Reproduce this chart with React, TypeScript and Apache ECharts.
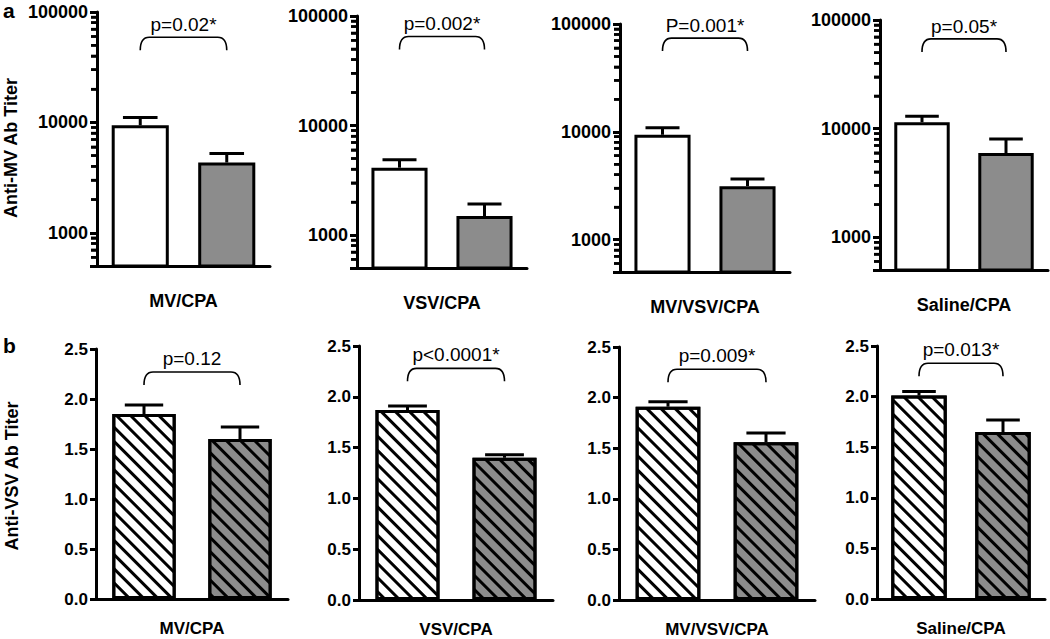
import React, { useEffect, useRef } from 'react';
import * as echarts from 'echarts';

// ---------- data ----------
const groups = ['MV/CPA', 'VSV/CPA', 'MV/VSV/CPA', 'Saline/CPA'];
const barKeys = ['Group 1', 'Group 2'];

// panel a: anti-MV antibody titer (log scale)
const mvMeans = [
  [9400, 4330],
  [4120, 1490],
  [9380, 3130],
  [11460, 5970],
];
const mvSem = [
  [1700, 900],
  [750, 430],
  [1520, 510],
  [1540, 2050],
];
const mvP = ['p=0.02*', 'p=0.002*', 'P=0.001*', 'p=0.05*'];
const mvBracket = [59000, 65000, 74000, 67000];
const mvMajorTicks = [1000, 10000, 100000];
const mvMinorTicks = [600, 700, 800, 900, 2000, 3000, 4000, 5000, 6000, 7000, 8000, 9000,
  20000, 30000, 40000, 50000, 60000, 70000, 80000, 90000];

// panel b: anti-VSV antibody titer (linear)
const vsvMeans = [
  [1.85, 1.6],
  [1.87, 1.4],
  [1.91, 1.56],
  [2.01, 1.65],
];
const vsvSem = [
  [0.09, 0.12],
  [0.04, 0.03],
  [0.05, 0.09],
  [0.04, 0.12],
];
const vsvP = ['p=0.12', 'p<0.0001*', 'p=0.009*', 'p=0.013*'];
const vsvBracket = [2.27, 2.28, 2.28, 2.33];

const yTitles = ['Anti-MV Ab Titer', 'Anti-VSV Ab Titer'];
const panelLetters = ['a', 'b'];

// ---------- layout / style ----------
const FONT = '"Liberation Sans", Arial, Helvetica, sans-serif';
const GRAY = '#8c8c8c';
const topGrids = [
  { left: 97, top: 12, width: 173, height: 254 },
  { left: 357, top: 16, width: 170, height: 252 },
  { left: 620, top: 24, width: 170, height: 248 },
  { left: 880, top: 20, width: 168, height: 250 },
];
const botGrids = [
  { left: 96, top: 349, width: 192, height: 250 },
  { left: 359, top: 346, width: 194, height: 257 },
  { left: 619, top: 347, width: 196, height: 256 },
  { left: 877, top: 346, width: 168, height: 253 },
];
const MINOR_TICK_LEN = 6;

const axisLineStyle = { color: '#000', width: 3 };

function errorBarRender(params: any, api: any) {
  const x = api.value(0);
  const m = api.value(1);
  const s = api.value(2);
  const p0 = api.coord([x, m]);
  const p1 = api.coord([x, m + s]);
  const band = api.coord([1, m])[0] - api.coord([0, m])[0];
  const w = Math.abs(band) * 0.2;
  return {
    type: 'group',
    children: [
      { type: 'line', shape: { x1: p0[0], y1: p0[1], x2: p1[0], y2: p1[1] }, style: { stroke: '#000', lineWidth: 3 } },
      { type: 'line', shape: { x1: p1[0] - w, y1: p1[1], x2: p1[0] + w, y2: p1[1] }, style: { stroke: '#000', lineWidth: 3 } },
    ],
  };
}

function bracketRender(label: string, gap: number) {
  return (params: any, api: any) => {
    const y = api.value(2);
    const a = api.coord([api.value(0), y]);
    const b = api.coord([api.value(1), y]);
    const r = 9;
    const h = 13;
    const d = `M${a[0]} ${a[1] + h} Q${a[0]} ${a[1]} ${a[0] + r} ${a[1]} L${b[0] - r} ${b[1]} Q${b[0]} ${b[1]} ${b[0]} ${b[1] + h}`;
    return {
      type: 'group',
      children: [
        { type: 'path', shape: { pathData: d }, style: { fill: 'none', stroke: '#000', lineWidth: 1.6 } },
        {
          type: 'text',
          x: (a[0] + b[0]) / 2,
          y: a[1] - gap,
          style: { text: label, align: 'center', verticalAlign: 'bottom', fontSize: 19, fontFamily: FONT, fill: '#000' },
        },
      ],
    };
  };
}

function buildOption() {
  const grid: any[] = [];
  const xAxis: any[] = [];
  const yAxis: any[] = [];
  const series: any[] = [];

  groups.forEach((g, i) => {
    // ---- top (panel a) ----
    const gi = i;
    grid.push({ ...topGrids[i], containLabel: false });
    xAxis.push({
      gridIndex: gi, type: 'category', data: barKeys, z: 10,
      axisLine: { onZero: false, lineStyle: axisLineStyle },
      axisTick: { alignWithLabel: true, length: 8, lineStyle: { width: 3, color: '#000' } },
      axisLabel: { show: false }, splitLine: { show: false },
      name: g, nameLocation: 'middle', nameGap: 26,
      nameTextStyle: { fontSize: 18, fontWeight: 'bold', fontFamily: FONT, color: '#000' },
    });
    yAxis.push({
      gridIndex: gi, type: 'log', logBase: 10, min: 500, max: 100000, z: 10, position: 'left',
      axisLine: { show: true, onZero: false, lineStyle: axisLineStyle },
      axisTick: { show: true, length: 7, lineStyle: { width: 3, color: '#000' } },
      axisLabel: {
        margin: 9, fontSize: 18, fontWeight: 'bold', fontFamily: FONT, color: '#000',
        formatter: (v: number) => (mvMajorTicks.includes(Math.round(v)) ? String(Math.round(v)) : ''),
      },
      splitLine: { show: false },
    });
    series.push({
      type: 'bar', xAxisIndex: gi, yAxisIndex: gi, barWidth: '66%', silent: true,
      itemStyle: { borderColor: '#000', borderWidth: 3 },
      data: mvMeans[i].map((v, j) => ({ value: v, itemStyle: { color: j === 0 ? '#fff' : GRAY } })),
    });
    series.push({
      type: 'custom', xAxisIndex: gi, yAxisIndex: gi, z: 4, silent: true, clip: false,
      renderItem: errorBarRender,
      data: mvMeans[i].map((v, j) => [j, v, mvSem[i][j]]),
    });
    series.push({
      type: 'custom', xAxisIndex: gi, yAxisIndex: gi, z: 4, silent: true, clip: false,
      renderItem: bracketRender(mvP[i], 3),
      data: [[0, 1, mvBracket[i]]],
    });
    // minor log ticks (2..9 x 10^n) placed on the y axis through the log scale
    const band = topGrids[i].width / 2;
    series.push({
      type: 'scatter', xAxisIndex: gi, yAxisIndex: gi, z: 20, silent: true, clip: false,
      symbol: 'rect', symbolSize: [MINOR_TICK_LEN, 2.5],
      symbolOffset: [-(band / 2) - MINOR_TICK_LEN / 2, 0],
      itemStyle: { color: '#000', opacity: 1, borderWidth: 0 },
      emphasis: { disabled: true },
      data: mvMinorTicks.map((v) => [0, v]),
    });
  });

  groups.forEach((g, i) => {
    // ---- bottom (panel b) ----
    const gi = 4 + i;
    grid.push({ ...botGrids[i], containLabel: false });
    xAxis.push({
      gridIndex: gi, type: 'category', data: barKeys, z: 10,
      axisLine: { onZero: false, lineStyle: axisLineStyle },
      axisTick: { alignWithLabel: true, length: 8, lineStyle: { width: 3, color: '#000' } },
      axisLabel: { show: false }, splitLine: { show: false },
      name: g, nameLocation: 'middle', nameGap: 21,
      nameTextStyle: { fontSize: 17, fontWeight: 'bold', fontFamily: FONT, color: '#000' },
    });
    yAxis.push({
      gridIndex: gi, type: 'value', min: 0, max: 2.5, interval: 0.5, z: 10,
      axisLine: { show: true, onZero: false, lineStyle: axisLineStyle },
      axisTick: { show: true, length: 6, lineStyle: { width: 3, color: '#000' } },
      axisLabel: {
        margin: 8, fontSize: 17, fontWeight: 'bold', fontFamily: FONT, color: '#000',
        formatter: (v: number) => v.toFixed(1),
      },
      splitLine: { show: false },
    });
    const decal = {
      symbol: 'rect', symbolSize: 1, color: '#000',
      dashArrayX: [1, 0], dashArrayY: [3, 7], rotation: Math.PI / 4,
    };
    series.push({
      type: 'bar', xAxisIndex: gi, yAxisIndex: gi, barWidth: '66%', silent: true,
      itemStyle: { borderColor: '#000', borderWidth: 3 },
      data: vsvMeans[i].map((v, j) => ({ value: v, itemStyle: { color: j === 0 ? '#fff' : GRAY, decal } })),
    });
    series.push({
      type: 'custom', xAxisIndex: gi, yAxisIndex: gi, z: 4, silent: true, clip: false,
      renderItem: errorBarRender,
      data: vsvMeans[i].map((v, j) => [j, v, vsvSem[i][j]]),
    });
    series.push({
      type: 'custom', xAxisIndex: gi, yAxisIndex: gi, z: 4, silent: true, clip: false,
      renderItem: bracketRender(vsvP[i], 4),
      data: [[0, 1, vsvBracket[i]]],
    });
  });

  // extra overlapping log axes on panel a that carry only the minor ticks
  groups.forEach((_, i) => {
    yAxis.push({
      gridIndex: i, type: 'log', logBase: 10, min: 500, max: 100000, position: 'left', offset: 0, z: 11,
      axisLine: { show: false },
      axisTick: { show: true, length: MINOR_TICK_LEN, customValues: mvMinorTicks, lineStyle: { width: 2.5, color: '#000' } },
      axisLabel: { show: false },
      splitLine: { show: false },
    });
  });

  return {
    animation: false,
    backgroundColor: '#fff',
    grid, xAxis, yAxis, series,
    graphic: [
      { type: 'text', left: 3, top: 0, z: 20, style: { text: panelLetters[0], fontSize: 21, fontWeight: 'bold', fontFamily: FONT, fill: '#000' } },
      { type: 'text', left: 3, top: 335, z: 20, style: { text: panelLetters[1], fontSize: 21, fontWeight: 'bold', fontFamily: FONT, fill: '#000' } },
      {
        type: 'text', x: 11, y: 148, rotation: Math.PI / 2, z: 20,
        style: { text: yTitles[0], align: 'center', verticalAlign: 'middle', fontSize: 18, fontWeight: 'bold', fontFamily: FONT, fill: '#000' },
      },
      {
        type: 'text', x: 12, y: 476, rotation: Math.PI / 2, z: 20,
        style: { text: yTitles[1], align: 'center', verticalAlign: 'middle', fontSize: 18, fontWeight: 'bold', fontFamily: FONT, fill: '#000' },
      },
    ],
  };
}

export default function App() {
  const ref = useRef<HTMLDivElement>(null);
  useEffect(() => {
    const chart = echarts.init(ref.current!, null, { renderer: 'svg' });
    chart.setOption(buildOption() as any);
    return () => chart.dispose();
  }, []);
  return <div ref={ref} style={{ position: 'absolute', left: 0, top: 0, width: 1050, height: 639 }} />;
}
